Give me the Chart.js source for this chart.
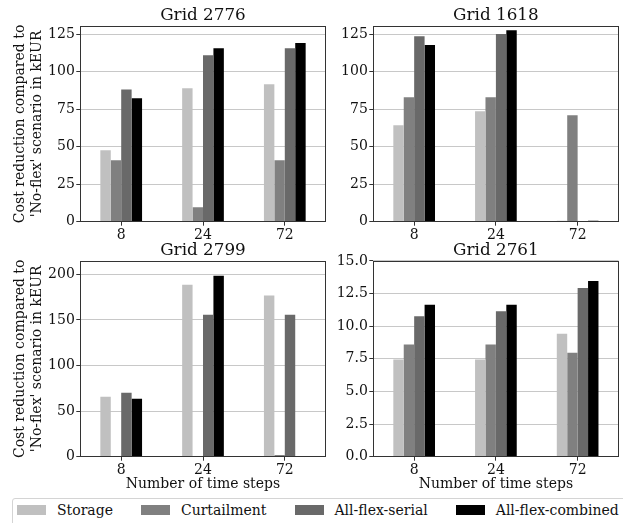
<!DOCTYPE html>
<html>
<head>
<meta charset="utf-8">
<script src="https://cdn.jsdelivr.net/npm/chart.js@4.4.0/dist/chart.umd.min.js"></script>
<style>
  body { margin: 0; width: 623px; height: 523px; overflow: hidden; background: #fff; position: relative; font-family: "DejaVu Serif", serif; }
  canvas { position: absolute; }
  #legend { position: absolute; left: 12px; top: 498px; width: 618px; height: 30px; box-sizing: border-box;
            border: 1px solid #d4d4d4; border-radius: 3px; display: flex; align-items: center; padding-left: 4px; padding-bottom: 6px;
            font-size: 14px; color: #111; white-space: nowrap; }
  #legend .item { display: flex; align-items: center; margin-right: 28px; flex-shrink: 0; }
  #legend .sw { width: 29px; height: 10px; margin-right: 11px; flex-shrink: 0; }
</style>
</head>
<body>
<canvas id="c1" width="330" height="240" style="left:0;top:0"></canvas>
<canvas id="c2" width="293" height="240" style="left:330px;top:0"></canvas>
<canvas id="c3" width="330" height="255" style="left:0;top:240px"></canvas>
<canvas id="c4" width="293" height="255" style="left:330px;top:240px"></canvas>
<div id="legend"></div>
<script>
// data, one row per grid, one value per number of time steps
var grids = ['Grid 2776', 'Grid 1618', 'Grid 2799', 'Grid 2761']
var steps = ['8', '24', '72']
var storage      = [[47.6, 89.0, 91.6], [64.3, 73.6, 0.6], [65.6, 188.6, 176.6], [7.45, 7.45, 9.43]]
var curtailment  = [[40.9, 9.6, 40.9], [83.0, 83.0, 71.0], [0, 0, 1.8], [8.6, 8.6, 7.96]]
var flexSerial   = [[88.1, 111.0, 115.7], [123.7, 125.2, 0], [70.0, 155.7, 155.7], [10.77, 11.15, 12.92]]
var flexCombined = [[82.3, 115.7, 119.2], [117.9, 127.7, 0.6], [63.4, 198.5, 0.4], [11.64, 11.64, 13.46]]
var yMax  = [130.4, 130.4, 214.6, 15]
var yStep = [25, 25, 50, 2.5]
var seriesNames  = ['Storage', 'Curtailment', 'All-flex-serial', 'All-flex-combined']
var seriesColors = ['#c0c0c0', '#808080', '#696969', '#000000']

var FONT = '"DejaVu Serif", serif'
Chart.defaults.font.family = FONT
Chart.defaults.color = '#111'

// axes frame like matplotlib spines
var framePlugin = {
    id: 'frame',
    afterDatasetsDraw: function (chart) {
        var a = chart.chartArea, ctx = chart.ctx
        ctx.save()
        ctx.strokeStyle = '#333'
        ctx.lineWidth = 1
        var l = Math.round(a.left) + 0.5, t = Math.round(a.top) + 0.5
        var r = Math.round(a.right) - 0.5, b = Math.round(a.bottom) - 0.5
        ctx.strokeRect(l, t, r - l, b - t)
        ctx.restore()
    }
}

var panels = [
    { id: 'c1', yWidth: 80.3, xHeight: 18.3, titleTop: 6, right: 4.3, yTitle: true, xTitle: false },
    { id: 'c2', yWidth: 43.3, xHeight: 18.3, titleTop: 6, right: 4.5, yTitle: false, xTitle: false },
    { id: 'c3', yWidth: 80.3, xHeight: 38.3, titleTop: 0.8, right: 4.3, yTitle: true, xTitle: true },
    { id: 'c4', yWidth: 43.3, xHeight: 38.3, titleTop: 0.8, right: 4.5, yTitle: false, xTitle: true }
]

var series = [storage, curtailment, flexSerial, flexCombined]

panels.forEach(function (p, i) {
    var ctx = document.getElementById(p.id).getContext('2d')
    new Chart(ctx, {
        type: 'bar',
        data: {
            labels: steps,
            datasets: series.map(function (s, k) {
                return {
                    label: seriesNames[k],
                    data: s[i],
                    backgroundColor: seriesColors[k],
                    borderWidth: 0,
                    categoryPercentage: 0.51,
                    barPercentage: 1.0
                }
            })
        },
        options: {
            responsive: false,
            animation: false,
            devicePixelRatio: 1,
            layout: { padding: { left: 0, right: p.right, top: 0, bottom: 0 } },
            plugins: {
                legend: { display: false },
                tooltip: { enabled: false },
                title: {
                    display: true,
                    fullSize: false,   // centre over the plot area, not the canvas
                    text: grids[i],
                    font: { size: 16.8, weight: 'normal', family: FONT },
                    color: '#111',
                    padding: { top: p.titleTop, bottom: 0 }
                }
            },
            scales: {
                x: {
                    offset: true,
                    grid: { display: true, drawOnChartArea: false, offset: false, drawTicks: true, tickLength: 4, tickColor: '#333' },
                    border: { display: false },
                    ticks: { font: { size: 14 }, padding: 1.5, color: '#111', maxRotation: 0 },
                    title: {
                        display: p.xTitle,
                        text: 'Number of time steps',
                        font: { size: 14 },
                        color: '#111',
                        padding: { top: 0, bottom: 2.6 }
                    },
                    afterFit: function (s) { s.height = p.xHeight }
                },
                y: {
                    min: 0,
                    max: yMax[i],
                    grid: { color: '#c8c8c8', lineWidth: 1, tickLength: 4, tickColor: '#333' },
                    border: { display: false },
                    ticks: {
                        stepSize: yStep[i],
                        includeBounds: false,
                        padding: 1.5,
                        font: { size: 14 },
                        color: '#111',
                        callback: function (v) { return i === 3 ? v.toFixed(1) : String(v) }
                    },
                    title: {
                        display: p.yTitle,
                        text: ['Cost reduction compared to', "'No-flex' scenario in kEUR"],
                        font: { size: 14 },
                        color: '#111',
                        padding: { top: 12, bottom: 0 }
                    },
                    afterFit: function (s) { s.width = p.yWidth }
                }
            }
        },
        plugins: [framePlugin]
    })
})

// legend row under the panels
var legend = document.getElementById('legend')
seriesNames.forEach(function (name, k) {
    var item = document.createElement('div')
    item.className = 'item'
    var sw = document.createElement('div')
    sw.className = 'sw'
    sw.style.background = seriesColors[k]
    var txt = document.createElement('span')
    txt.textContent = name
    item.appendChild(sw)
    item.appendChild(txt)
    legend.appendChild(item)
})
</script>
</body>
</html>
